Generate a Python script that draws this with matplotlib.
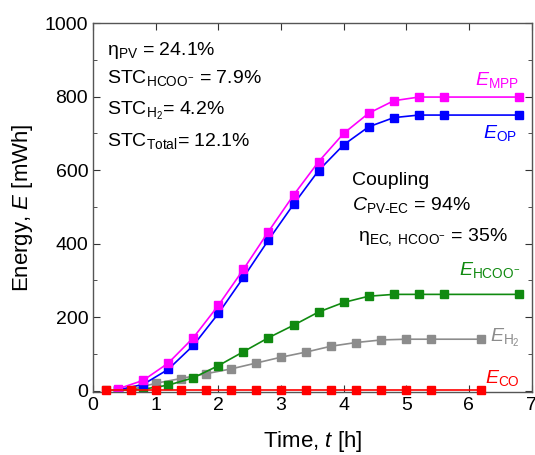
import numpy as np
import matplotlib
matplotlib.use("Agg")
import matplotlib.pyplot as plt
from matplotlib.ticker import MultipleLocator

plt.rcParams['font.family'] = ['Liberation Sans', 'DejaVu Sans']
plt.rcParams['mathtext.fontset'] = 'custom'
plt.rcParams['mathtext.rm'] = 'Liberation Sans'
plt.rcParams['mathtext.it'] = 'Liberation Sans:italic'
plt.rcParams['mathtext.bf'] = 'Liberation Sans:bold'

# time points (h)
t_a = [0.4, 0.8, 1.2, 1.6, 2.0, 2.4, 2.8, 3.2, 3.6, 4.0, 4.4, 4.8, 5.2, 5.6, 6.8]
t_b = [0.2, 0.6, 1.0, 1.4, 1.8, 2.2, 2.6, 3.0, 3.4, 3.8, 4.2, 4.6, 5.0, 5.4, 6.2]

# energies (mWh)
e_mpp = [5, 28, 75, 144, 232, 330, 433, 532, 623, 700, 755, 789, 799, 799, 799]
e_op = [2, 17, 58, 123, 210, 308, 410, 507, 599, 669, 718, 743, 750, 750, 750]
e_hcoo = [1, 4, 15, 35, 68, 106, 144, 178, 214, 240, 257, 262, 262, 262, 262]
e_h2 = [0.5, 3, 20, 33, 46, 59, 75, 91, 105, 121, 131, 138, 140, 140, 140]
e_co = [1, 1, 1, 1, 1, 1, 1, 1, 1, 1, 1, 1, 1, 1, 1]

c_mpp = '#ff00ff'
c_op = '#0000ff'
c_hcoo = '#108a10'
c_h2 = '#8c8c8c'
c_co = '#ff0000'

fig = plt.figure(figsize=(5.35, 4.55), dpi=100)
ax = fig.add_axes([0.174, 0.139, 0.8195, 0.81])

kw = dict(marker='s', markersize=5.6, linewidth=1.2)
ax.plot(t_b, e_h2, color=c_h2, **kw)
ax.plot(t_a, e_hcoo, color=c_hcoo, **kw)
ax.plot(t_a, e_op, color=c_op, **kw)
ax.plot(t_a, e_mpp, color=c_mpp, **kw)
ax.plot(t_b, e_co, color=c_co, **kw, clip_on=False, zorder=5)

ax.set_xlim(0, 7)
ax.set_ylim(-3, 1000)
ax.xaxis.set_major_locator(MultipleLocator(1))
ax.yaxis.set_major_locator(MultipleLocator(200))
ax.yaxis.set_minor_locator(MultipleLocator(100))
ax.tick_params(which='both', direction='in', top=True, right=True,
               labelsize=14, color='#333333')
ax.tick_params(which='major', length=5)
ax.tick_params(which='minor', length=3)
for s in ax.spines.values():
    s.set_color('#555555')
    s.set_linewidth(1.0)

ax.set_xlabel('Time, $\\it{t}$ [h]', fontsize=16, labelpad=11)
ax.set_ylabel('Energy, $\\it{E}$ [mWh]', fontsize=16, labelpad=7)

fs = 14
ax.text(0.22, 913, '$\\mathrm{\\eta_{PV}}$ = 24.1%', fontsize=fs, va='baseline')
ax.text(0.22, 836, 'STC$_{\\mathrm{HCOO^{-}}}$ = 7.9%', fontsize=fs, va='baseline')
ax.text(0.22, 750, 'STC$_{\\mathrm{H_2}}$= 4.2%', fontsize=fs, va='baseline')
ax.text(0.22, 667, 'STC$_{\\mathrm{Total}}$= 12.1%', fontsize=fs, va='baseline')

ax.text(4.13, 560, 'Coupling', fontsize=fs, va='baseline')
ax.text(4.13, 492, '$\\it{C}_{\\mathrm{PV\\text{-}EC}}$ = 94%', fontsize=fs, va='baseline')
ax.text(4.23, 408, '$\\mathrm{\\eta_{EC,\\ HCOO^{-}}}$ = 35%', fontsize=fs, va='baseline')

ax.text(6.09, 832, '$\\it{E}_{\\mathrm{MPP}}$', fontsize=fs, va='baseline', color=c_mpp)
ax.text(6.22, 687, '$\\it{E}_{\\mathrm{OP}}$', fontsize=fs, va='baseline', color=c_op)
ax.text(5.85, 315, '$\\it{E}_{\\mathrm{HCOO^{-}}}$', fontsize=fs, va='baseline', color=c_hcoo)
ax.text(6.33, 133, '$\\it{E}_{\\mathrm{H_2}}$', fontsize=fs, va='baseline', color=c_h2)
ax.text(6.25, 22, '$\\it{E}_{\\mathrm{CO}}$', fontsize=fs, va='baseline', color=c_co)

fig.savefig('out.png', dpi=100)
